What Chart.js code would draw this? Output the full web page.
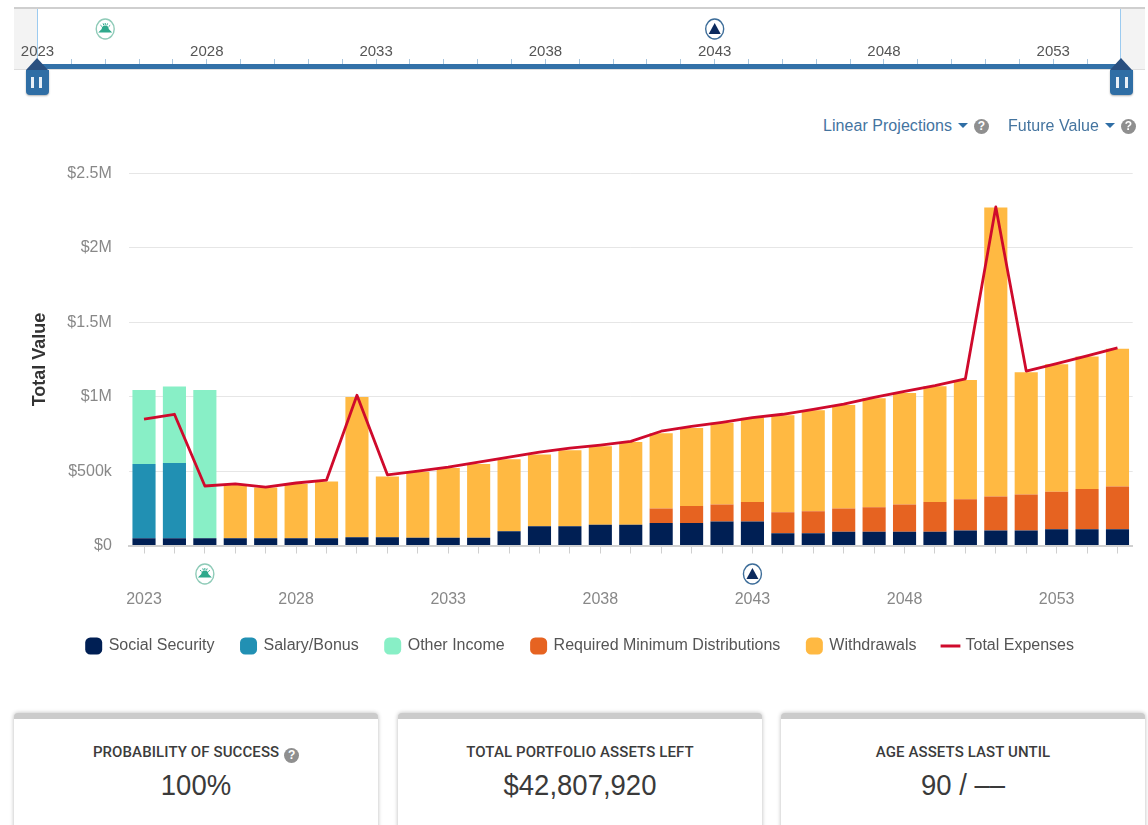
<!DOCTYPE html>
<html><head><meta charset="utf-8">
<script src="https://cdn.jsdelivr.net/npm/chart.js@4"></script>
<style>
html,body{margin:0;padding:0;background:#fff;width:1148px;height:825px;overflow:hidden;font-family:"Liberation Sans",Arial,sans-serif}
.abs{position:absolute}
.q{display:inline-block;width:15px;height:15px;border-radius:50%;background:#8f8f8f;color:#fff;font:bold 12px/15px "Liberation Sans";text-align:center;vertical-align:1px}
.drop{color:#44749f;font-size:16px;line-height:20px;white-space:nowrap;letter-spacing:.05px}
.caret{display:inline-block;width:0;height:0;border-left:5px solid transparent;border-right:5px solid transparent;border-top:5px solid #2f6ea5;vertical-align:3px;margin:0 6px 0 6px}
.card{position:absolute;top:713px;height:120px;width:364px;box-sizing:border-box;border-top:6px solid #cbcbcb;border-radius:4px;background:#fff;box-shadow:0 0 4px rgba(0,0,0,.28);text-align:center}
.card .t{position:absolute;left:0;right:0;top:24px;font:500 15px/18px "Roboto";color:#3c3c3c;letter-spacing:.1px}
.card .v{position:absolute;left:0;right:0;top:49px;font:27.5px/34px "Liberation Sans";color:#3a3a3a;transform:scaleY(1.08)}
.handle{position:absolute;top:70px;width:23px;height:25px;background:#2f6ea5;border-radius:0 0 4px 4px;box-shadow:0 1px 2px rgba(0,0,0,.3)}
.handle:before{content:"";position:absolute;left:0;top:-12px;border-left:11.5px solid transparent;border-right:11.5px solid transparent;border-bottom:12px solid #2a5080}
.handle i{position:absolute;top:7px;width:2.5px;height:11px;background:#e8f0f7}
</style></head><body>
<div class="abs" style="left:14px;top:7px;width:1131px;height:2px;background:#cfcfcf"></div>
<div class="abs" style="left:14px;top:9px;width:23px;height:60px;background:#f3f3f3"></div>
<div class="abs" style="left:1121px;top:9px;width:24px;height:60px;background:#f3f3f3"></div>
<div class="abs" style="left:37px;top:9px;width:1px;height:52px;background:#9ccbf0"></div>
<div class="abs" style="left:1120px;top:9px;width:1px;height:52px;background:#9ccbf0"></div>
<div class="abs" style="left:14px;top:69px;width:1131px;height:1px;background:#dedede"></div>
<canvas id="timeline" class="abs" style="left:0;top:0" width="1148" height="72"></canvas>
<div class="abs" style="left:37px;top:64px;width:1084px;height:5px;background:#3371a8"></div>
<div class="handle" style="left:26px"><i style="left:5px"></i><i style="left:13px"></i></div>
<div class="handle" style="left:1110px"><i style="left:6px"></i><i style="left:15px"></i></div>
<div class="abs drop" style="left:823px;top:116px">Linear Projections<span class="caret"></span><span class="q">?</span></div>
<div class="abs drop" style="left:1008px;top:116px">Future Value<span class="caret"></span><span class="q">?</span></div>
<div class="abs" style="left:0;top:140px;width:1148px;height:530px"><canvas id="main"></canvas></div>
<div class="card" style="left:14px"><div class="t">PROBABILITY OF SUCCESS <span class="q" style="vertical-align:-2px;margin-left:1px">?</span></div><div class="v">100%</div></div>
<div class="card" style="left:398px"><div class="t">TOTAL PORTFOLIO ASSETS LEFT</div><div class="v">$42,807,920</div></div>
<div class="card" style="left:781px"><div class="t">AGE ASSETS LAST UNTIL</div><div class="v">90 / ––</div></div>
<script>
const years = [2023,2024,2025,2026,2027,2028,2029,2030,2031,2032,2033,2034,2035,2036,2037,2038,2039,2040,2041,2042,2043,2044,2045,2046,2047,2048,2049,2050,2051,2052,2053,2054,2055];
const socialSecurity = [48,48,48,48,48,48,48,55,55,52,52,52,95,130,130,140,140,152,152,161,161,82,82,92,92,92,92,100,100,100,109,109,109];
const salaryBonus = [500,507,0,0,0,0,0,0,0,0,0,0,0,0,0,0,0,0,0,0,0,0,0,0,0,0,0,0,0,0,0,0,0];
const otherIncome = [497,513,997,0,0,0,0,0,0,0,0,0,0,0,0,0,0,0,0,0,0,0,0,0,0,0,0,0,0,0,0,0,0];
const requiredMinimum = [0,0,0,0,0,0,0,0,0,0,0,0,0,0,0,0,0,96,114,114,132,141,149,156,165,183,201,210,229,243,253,271,288];
const withdrawals = [0,0,0,366,342,366,382,943,409,443,468,495,485,482,510,527,555,506,523,550,565,653,678,697,733,750,777,803,1943,821,856,891,926];
const totalExpenses = [850,882,400,414,393,420,440,1010,475,500,527,560,594,627,654,675,700,768,800,828,860,882,915,950,995,1035,1075,1120,2275,1172,1222,1275,1328];
const valueTicks = {0:'$0',500000:'$500k',1000000:'$1M',1500000:'$1.5M',2000000:'$2M',2500000:'$2.5M'};
const markers = [{year:2025,kind:'sun'},{year:2043,kind:'peak'}];
const k = a => a.map(v => v*1000);
const FONT = '"Liberation Sans", Arial, sans-serif';

function markerPlugin(cy){
  return {id:'markers',afterDraw(c){
    const x=c.scales.x, g=c.ctx;
    markers.forEach(m=>{
      const cx=x.getPixelForValue(years.indexOf(m.year));
      g.save();
      g.beginPath();g.ellipse(cx,cy,9,10,0,0,Math.PI*2);g.fillStyle='#fff';g.fill();
      g.lineWidth=1.4;g.strokeStyle=m.kind==='sun'?'#8fcbb8':'#3d6d99';g.stroke();
      if(m.kind==='sun'){
        g.fillStyle='#2fa98c';
        g.beginPath();g.moveTo(cx-7,cy+3.5);g.lineTo(cx+7,cy+3.5);g.lineTo(cx+3.5,cy);g.arc(cx,cy,3.5,0,Math.PI,true);g.closePath();g.fill();
        g.strokeStyle='#2fa98c';g.lineWidth=1;
        [-2.4,-1.9,-1.57,-1.2,-.7].forEach(a=>{g.beginPath();g.moveTo(cx+4.5*Math.cos(a),cy+.5+4.5*Math.sin(a));g.lineTo(cx+6.5*Math.cos(a),cy+.5+6.5*Math.sin(a));g.stroke();});
      }else{
        g.fillStyle='#0c2a5e';
        g.beginPath();g.moveTo(cx,cy-6);g.lineTo(cx+6,cy+5);g.lineTo(cx-6,cy+5);g.closePath();g.fill();
      }
      g.restore();
    });
  }};
}

new Chart(document.getElementById('timeline'),{
  type:'line',
  data:{labels:years,datasets:[{data:[],label:'timeline'}]},
  plugins:[markerPlugin(29)],
  options:{responsive:false,animation:false,
    layout:{padding:{left:37.5,right:27,top:40,bottom:0}},
    plugins:{legend:{display:false},tooltip:{enabled:false}},
    scales:{
      y:{display:false},
      x:{position:'top',
        afterFit(s){s.paddingLeft=0;s.paddingRight=0;s.height=24;},
        border:{display:false},
        grid:{drawOnChartArea:false,color:'#a9c6de',tickLength:5,offset:false},
        ticks:{autoSkip:false,maxRotation:0,padding:-2,color:'#555',font:{family:FONT,size:15},
          callback(v,i){return (years[i]-2023)%5===0?String(years[i]):'';}}
      }
    }
  }
});

const bar=(label,data,color)=>({type:'bar',label,data:k(data),backgroundColor:color,borderWidth:0,categoryPercentage:1,barPercentage:.76,order:1,pointStyle:'rectRounded'});
new Chart(document.getElementById('main'),{
  data:{labels:years,datasets:[
    bar('Social Security',socialSecurity,'#001f54'),
    bar('Salary/Bonus',salaryBonus,'#2190b3'),
    bar('Other Income',otherIncome,'#88efc6'),
    bar('Required Minimum Distributions',requiredMinimum,'#e66321'),
    bar('Withdrawals',withdrawals,'#ffb942'),
    {type:'line',label:'Total Expenses',data:k(totalExpenses),borderColor:'#cf0a2c',backgroundColor:'#cf0a2c',borderWidth:2.8,borderJoinStyle:'round',pointRadius:0,tension:0,order:0,pointStyle:'line'}
  ]},
  plugins:[markerPlugin(434)],
  options:{responsive:true,maintainAspectRatio:false,animation:false,
    layout:{padding:{left:28,right:15.3,top:33.5,bottom:6}},
    plugins:{tooltip:{enabled:false},
      legend:{position:'bottom',labels:{usePointStyle:true,boxHeight:14,boxWidth:14,padding:27,color:'#555',
        sort:(a,b)=>a.datasetIndex-b.datasetIndex,font:{family:FONT,size:16}}}},
    scales:{
      x:{stacked:true,
        afterFit(s){s.height=65.5;s.paddingLeft=0;s.paddingRight=0;},
        border:{color:'#d0d0d0',width:2},
        grid:{drawOnChartArea:false,color:'#cfcfcf',tickLength:8,offset:false},
        ticks:{autoSkip:false,maxRotation:0,padding:36.5,color:'#888',font:{family:FONT,size:16},
          callback(v,i){return (years[i]-2023)%5===0?String(years[i]):'';}}
      },
      y:{stacked:true,min:0,max:2500000,
        afterFit(s){s.width=100.8;},
        border:{display:false},
        grid:{color:'#e6e6e6',drawTicks:false},
        title:{display:true,text:'Total Value',color:'#333',font:{family:FONT,size:18,weight:'bold'},padding:{top:1,bottom:0}},
        ticks:{stepSize:500000,padding:17,color:'#888',font:{family:FONT,size:16},callback:v=>valueTicks[v]}
      }
    }
  }
});
</script>
</body></html>
